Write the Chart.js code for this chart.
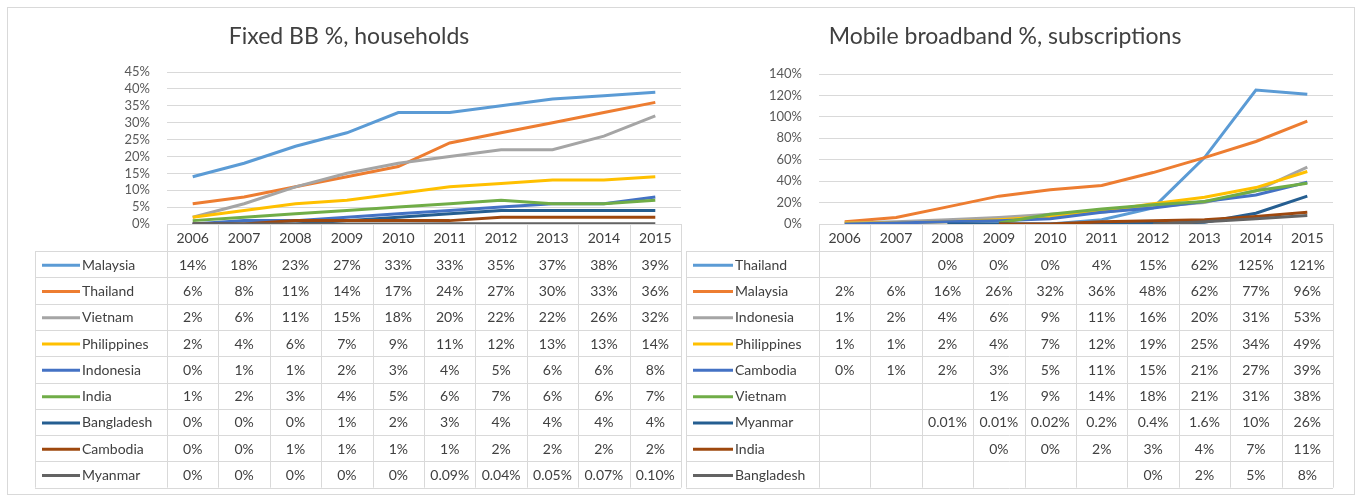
<!DOCTYPE html>
<html>
<head>
<meta charset="utf-8">
<title>Fixed and mobile broadband</title>
<script src="https://cdn.jsdelivr.net/npm/chart.js@4.4.1/dist/chart.umd.min.js"></script>
<style>
  html, body { margin: 0; padding: 0; background: #fff; }
  #frame { position: absolute; left: 7px; top: 7px; width: 1346px; height: 486px; border: 1px solid #d9d9d9; }
  canvas { position: absolute; top: 0; }
  #fixed { left: 0; }
  #mobile { left: 684px; }
</style>
</head>
<body>
<div id="frame"></div>
<canvas id="fixed" width="684" height="502"></canvas>
<canvas id="mobile" width="684" height="502"></canvas>
<script>
const years = ["2006", "2007", "2008", "2009", "2010", "2011", "2012", "2013", "2014", "2015"];
const palette = ["#5B9BD5", "#ED7D31", "#A5A5A5", "#FFC000", "#4472C4", "#70AD47", "#255E91", "#9E480E", "#636363"];

// fixed broadband, % of households
const fixedTicks = [0, 5, 10, 15, 20, 25, 30, 35, 40, 45];
const fixedCountries = ["Malaysia", "Thailand", "Vietnam", "Philippines", "Indonesia", "India", "Bangladesh", "Cambodia", "Myanmar"];
const fixedMalaysia = [14, 18, 23, 27, 33, 33, 35, 37, 38, 39];
const fixedThailand = [6, 8, 11, 14, 17, 24, 27, 30, 33, 36];
const fixedVietnam = [2, 6, 11, 15, 18, 20, 22, 22, 26, 32];
const fixedPhilippines = [2, 4, 6, 7, 9, 11, 12, 13, 13, 14];
const fixedIndonesia = [0, 1, 1, 2, 3, 4, 5, 6, 6, 8];
const fixedIndia = [1, 2, 3, 4, 5, 6, 7, 6, 6, 7];
const fixedBangladesh = [0, 0, 0, 1, 2, 3, 4, 4, 4, 4];
const fixedCambodia = [0, 0, 1, 1, 1, 1, 2, 2, 2, 2];
const fixedMyanmar = [0, 0, 0, 0, 0, 0.09, 0.04, 0.05, 0.07, 0.10];

// mobile broadband, % of subscriptions (null = no figure)
const mobileTicks = [0, 20, 40, 60, 80, 100, 120, 140];
const mobileCountries = ["Thailand", "Malaysia", "Indonesia", "Philippines", "Cambodia", "Vietnam", "Myanmar", "India", "Bangladesh"];
const mobileThailand = [null, null, 0, 0, 0, 4, 15, 62, 125, 121];
const mobileMalaysia = [2, 6, 16, 26, 32, 36, 48, 62, 77, 96];
const mobileIndonesia = [1, 2, 4, 6, 9, 11, 16, 20, 31, 53];
const mobilePhilippines = [1, 1, 2, 4, 7, 12, 19, 25, 34, 49];
const mobileCambodia = [0, 1, 2, 3, 5, 11, 15, 21, 27, 39];
const mobileVietnam = [null, null, null, 1, 9, 14, 18, 21, 31, 38];
const mobileMyanmar = [null, null, 0.01, 0.01, 0.02, 0.2, 0.4, 1.6, 10, 26];
const mobileIndia = [null, null, null, 0, 0, 2, 3, 4, 7, 11];
const mobileBangladesh = [null, null, null, null, null, null, 0, 2, 5, 8];

const FONT = "Lato, 'Open Sans', sans-serif";
Chart.defaults.font.family = FONT;

function pct(v, decimals) {
  if (v == null) return "";
  if (Number.isInteger(v)) return v + "%";
  return (decimals != null ? v.toFixed(decimals) : String(v)) + "%";
}

// title + Excel-style data table under the plot, columns taken from the x scale
const dataTable = {
  id: "dataTable",
  afterDraw(chart, args, opts) {
    const { ctx, chartArea: area, scales: { x } } = chart;
    const labels = chart.data.labels;
    const sets = chart.data.datasets;
    const step = x.getPixelForValue(1) - x.getPixelForValue(0);
    const top = area.bottom;
    const bodyTop = top + opts.headHeight;
    const bottom = bodyTop + sets.length * opts.rowHeight;

    ctx.save();
    ctx.strokeStyle = "#d9d9d9";
    ctx.lineWidth = 1;
    ctx.beginPath();
    ctx.moveTo(area.left, Math.round(top) + 0.5);
    ctx.lineTo(area.right, Math.round(top) + 0.5);
    for (let r = 0; r <= sets.length; r++) {
      const y = Math.round(bodyTop + r * opts.rowHeight) + 0.5;
      ctx.moveTo(opts.left, y);
      ctx.lineTo(area.right, y);
    }
    ctx.moveTo(opts.left + 0.5, bodyTop);
    ctx.lineTo(opts.left + 0.5, bottom);
    for (let i = 0; i <= labels.length; i++) {
      const xx = Math.round(area.left + i * step) + 0.5;
      ctx.moveTo(xx, top);
      ctx.lineTo(xx, bottom);
    }
    ctx.stroke();

    ctx.font = "14px " + FONT;
    ctx.fillStyle = "#404040";
    ctx.textAlign = "center";
    ctx.textBaseline = "middle";
    labels.forEach((l, i) => ctx.fillText(l, x.getPixelForValue(i), top + opts.headHeight / 2 + 1));

    sets.forEach((ds, r) => {
      const y = bodyTop + (r + 0.5) * opts.rowHeight + 1;
      ctx.strokeStyle = ds.borderColor;
      ctx.lineWidth = 3;
      ctx.beginPath();
      ctx.moveTo(opts.keyStart, y);
      ctx.lineTo(opts.keyEnd, y);
      ctx.stroke();
      ctx.textAlign = "left";
      ctx.fillText(ds.label, opts.keyEnd + 2, y);
      ctx.textAlign = "center";
      ds.data.forEach((v, i) => {
        if (v != null) ctx.fillText(pct(v, ds.decimals), x.getPixelForValue(i), y);
      });
    });

    ctx.font = "23px " + FONT;
    ctx.fillStyle = "#404040";
    ctx.fillText(opts.title, opts.titleX, opts.titleY);
    ctx.restore();
  }
};

function makeChart(id, countries, series, ticks, table) {
  return new Chart(document.getElementById(id), {
    type: "line",
    data: {
      labels: years,
      datasets: series.map((data, i) => ({
        label: countries[i],
        data: data,
        borderColor: palette[i],
        backgroundColor: palette[i],
        borderWidth: 3,
        pointRadius: 0,
        tension: 0,
        order: -i,
        decimals: table.decimals[i]
      }))
    },
    options: {
      responsive: false,
      animation: false,
      layout: { padding: table.padding },
      plugins: {
        legend: { display: false },
        tooltip: { enabled: false },
        dataTable: table
      },
      scales: {
        x: { display: false, offset: true },
        y: {
          min: ticks[0],
          max: ticks[ticks.length - 1],
          ticks: {
            stepSize: ticks[1] - ticks[0],
            autoSkip: false,
            padding: 17,
            color: "#595959",
            font: { size: 13 },
            callback: (v) => v + "%"
          },
          grid: { color: "#d9d9d9", drawTicks: false },
          border: { display: false },
          afterFit(scale) { scale.width = table.axisWidth; }
        }
      }
    },
    plugins: [dataTable]
  });
}

makeChart("fixed", fixedCountries,
  [fixedMalaysia, fixedThailand, fixedVietnam, fixedPhilippines, fixedIndonesia,
   fixedIndia, fixedBangladesh, fixedCambodia, fixedMyanmar],
  fixedTicks,
  {
    title: "Fixed BB %, households", titleX: 349, titleY: 37,
    padding: { left: 0, top: 72, right: 3, bottom: 278 }, axisWidth: 167,
    left: 35, keyStart: 42, keyEnd: 80, headHeight: 27, rowHeight: 26.3,
    decimals: [null, null, null, null, null, null, null, null, 2]
  });

makeChart("mobile", mobileCountries,
  [mobileThailand, mobileMalaysia, mobileIndonesia, mobilePhilippines, mobileCambodia,
   mobileVietnam, mobileMyanmar, mobileIndia, mobileBangladesh],
  mobileTicks,
  {
    title: "Mobile broadband %, subscriptions", titleX: 321, titleY: 37,
    padding: { left: 0, top: 74, right: 35, bottom: 278 }, axisWidth: 135,
    left: 2, keyStart: 9, keyEnd: 49, headHeight: 27, rowHeight: 26.3,
    decimals: [null, null, null, null, null, null, null, null, null]
  });
</script>
</body>
</html>
